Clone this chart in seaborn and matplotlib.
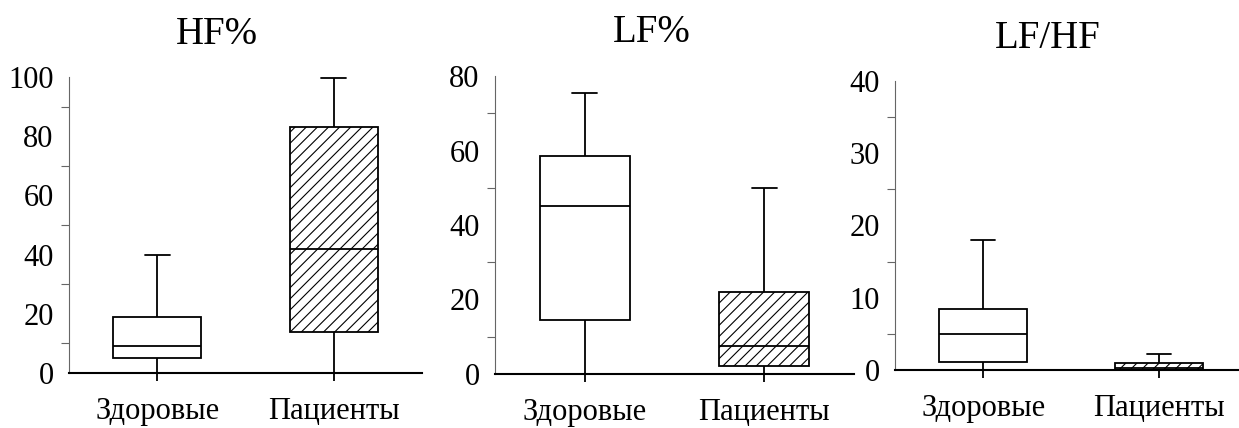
import matplotlib
matplotlib.use("Agg")
import matplotlib.pyplot as plt
import matplotlib.patches as mpatches
import seaborn as sns
import pandas as pd
import numpy as np

# ---- data ----
groups = ["Здоровые", "Пациенты"]
titles = ["HF%", "LF%", "LF/HF"]
# five-number summaries: [lower whisker, Q1, median, Q3, upper whisker]
hf_healthy = [0, 5, 9, 19, 40]
hf_patients = [0, 14, 42, 83, 99.5]
lf_healthy = [0, 14.5, 45, 58.5, 75.5]
lf_patients = [0, 2.2, 7.6, 22, 50]
lfhf_healthy = [0.1, 1.1, 5, 8.5, 18]
lfhf_patients = [0, 0.1, 0.3, 1.0, 2.3]
y_max = [100, 80, 40]
y_step = [20, 20, 10]

panels = [
    (hf_healthy, hf_patients),
    (lf_healthy, lf_patients),
    (lfhf_healthy, lfhf_patients),
]

sns.set_style("ticks")
plt.rcParams["font.family"] = ["Liberation Serif", "DejaVu Serif"]
plt.rcParams["text.color"] = "black"
plt.rcParams["xtick.color"] = "black"
plt.rcParams["ytick.color"] = "black"
plt.rcParams["hatch.linewidth"] = 0.8
plt.rcParams["hatch.color"] = "#555555"

W, H = 1239, 428
fig = plt.figure(figsize=(W / 100, H / 100), dpi=100)

# axes boxes in pixels: left, right, top, bottom
boxes_px = [(69, 422, 77, 373), (495, 854, 76, 374), (895, 1239, 80.7, 370.3)]
xlims = [(-0.5, 1.5), (-0.5, 1.5), (-0.501, 1.456)]
title_x = [0.42, 0.437, 0.445]
title_y_px = [35, 33, 39]

for i, (healthy, patients) in enumerate(panels):
    l, r, t, b = boxes_px[i]
    ax = fig.add_axes([l / W, 1 - b / H, (r - l) / W, (b - t) / H])
    df = pd.DataFrame({
        "group": [groups[0]] * len(healthy) + [groups[1]] * len(patients),
        "value": list(healthy) + list(patients),
    })
    sns.boxplot(data=df, x="group", y="value", order=groups, whis=(0, 100),
                width=0.5, color="white", saturation=1, linecolor="black",
                linewidth=1.3, ax=ax, capwidths=0.14)
    # hatch the patients box
    pps = [c for c in ax.get_children() if isinstance(c, mpatches.PathPatch)]
    for j, p in enumerate(pps):
        p.set_facecolor("white")
        p.set_edgecolor("black")
        if j == 1:
            p.set_hatch("///")
    ax.set_xlim(*xlims[i])
    ax.set_ylim(0, y_max[i])
    ax.set_xlabel("")
    ax.set_ylabel("")
    for s in ["top", "right"]:
        ax.spines[s].set_visible(False)
    ax.spines["left"].set_color("#666666")
    ax.spines["left"].set_linewidth(0.8)
    ax.spines["bottom"].set_color("black")
    ax.spines["bottom"].set_linewidth(1.5)
    ax.set_yticks(np.arange(0, y_max[i] + 0.1, y_step[i]))
    ax.set_yticks(np.arange(y_step[i] / 2, y_max[i], y_step[i]), minor=True)
    ax.tick_params(axis="y", which="major", length=0, pad=11, labelsize=22)
    ax.tick_params(axis="y", which="minor", length=6, width=0.8, color="#666666")
    ax.tick_params(axis="x", length=6, width=1.3, pad=11, labelsize=22)
    ax.set_facecolor("white")
    fig.text(l / W + title_x[i] * (r - l) / W, 1 - title_y_px[i] / H, titles[i],
             ha="center", va="center", fontsize=28)

fig.savefig("out.png", dpi=100, facecolor="white")
